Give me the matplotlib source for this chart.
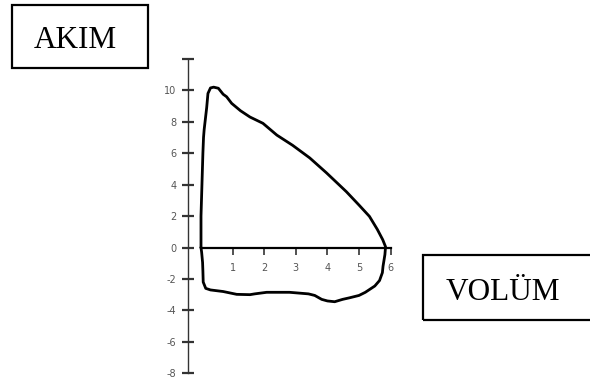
import matplotlib
matplotlib.use("Agg")
import matplotlib.pyplot as plt
from matplotlib.patches import Rectangle

# Flow-volume loop: expiratory limb (positive flow) then inspiratory limb (negative flow)
volume = [0.0, 0.0, 0.0, 0.03, 0.06, 0.08, 0.10, 0.14, 0.18, 0.22, 0.30, 0.40, 0.55,
          0.70, 0.81, 0.97, 1.25, 1.55, 1.96, 2.40, 2.90, 3.44, 3.97, 4.60, 5.00,
          5.33, 5.58, 5.75, 5.84,
          5.82, 5.76, 5.74, 5.65, 5.50, 5.20, 5.00, 4.70, 4.48, 4.23, 4.00, 3.82,
          3.60, 3.40, 2.80, 2.08, 1.70, 1.55, 1.13, 0.70, 0.30, 0.15, 0.07, 0.06,
          0.05, 0.02, 0.0]
flow = [0.0, 1.0, 2.0, 4.0, 6.0, 7.0, 7.5, 8.2, 8.9, 9.8, 10.15, 10.2, 10.13,
        9.75, 9.59, 9.17, 8.70, 8.30, 7.90, 7.15, 6.50, 5.70, 4.75, 3.55, 2.70,
        1.98, 1.15, 0.50, 0.05,
        -0.45, -1.20, -1.60, -2.10, -2.45, -2.85, -3.05, -3.20, -3.30, -3.45, -3.40, -3.30,
        -3.05, -2.95, -2.85, -2.85, -2.95, -3.00, -2.98, -2.80, -2.70, -2.60, -2.20, -1.50,
        -0.95, -0.30, 0.0]

y_ticks = [-8, -6, -4, -2, 0, 2, 4, 6, 8, 10, 12]
y_tick_labels = ["-8", "-6", "-4", "-2", "0", "2", "4", "6", "8", "10", ""]
x_ticks = [1, 2, 3, 4, 5, 6]
x_tick_labels = ["1", "2", "3", "4", "5", "6"]

W, H = 590, 383
fig = plt.figure(figsize=(W / 100, H / 100), dpi=100)

# axes placed so that x=0 sits at px 201 and y=0 at px 247.5
x_lo, x_hi = -0.6, 6.3
y_lo, y_hi = -8.5, 12.5
px_per_x, px_per_y = 31.6, 15.72
left_px = 201 + px_per_x * x_lo
right_px = 201 + px_per_x * x_hi
top_px = 247.5 - px_per_y * y_hi
bot_px = 247.5 - px_per_y * y_lo
ax = fig.add_axes([left_px / W, 1 - bot_px / H,
                   (right_px - left_px) / W, (bot_px - top_px) / H])
ax.set_xlim(x_lo, x_hi)
ax.set_ylim(y_lo, y_hi)
ax.patch.set_alpha(0)

ax.plot(volume, flow, color="black", lw=2.0, solid_joinstyle="round",
        solid_capstyle="round", zorder=3)

for s in ("top", "right"):
    ax.spines[s].set_visible(False)
ax.spines["left"].set_position(("data", -0.41))
ax.spines["left"].set_bounds(-8, 12)
ax.spines["left"].set_color("#333333")
ax.spines["left"].set_linewidth(1.0)
ax.spines["bottom"].set_position(("data", 0))
ax.spines["bottom"].set_bounds(0, 6)
ax.spines["bottom"].set_color("black")
ax.spines["bottom"].set_linewidth(1.6)

ax.set_yticks(y_ticks)
ax.set_yticklabels(y_tick_labels)
ax.set_xticks(x_ticks)
ax.set_xticklabels(x_tick_labels)
ax.tick_params(axis="y", direction="inout", length=9, width=1.6, color="#333333",
               labelsize=7, labelcolor="#555555", pad=4)
ax.tick_params(axis="x", direction="out", length=5, width=1.2, color="#333333",
               labelsize=7, labelcolor="#555555", pad=6)

# labelled boxes for the axis names
def px_rect(x0, y0, x1, y1):
    return Rectangle((x0 / W, 1 - y1 / H), (x1 - x0) / W, (y1 - y0) / H,
                     transform=fig.transFigure, fill=False, edgecolor="black",
                     linewidth=1.6, clip_on=False)

fig.patches.append(px_rect(12, 5, 148, 68))
fig.patches.append(px_rect(423, 255, 596, 320))
fig.text(75 / W, 1 - 48 / H, "AKIM", family="Liberation Serif", fontsize=22.5,
         ha="center", va="baseline", color="black")
fig.text(502.5 / W, 1 - 300.5 / H, "VOLÜM", family="Liberation Serif", fontsize=22.5,
         ha="center", va="baseline", color="black")

fig.savefig("out.png", dpi=100, facecolor="white")
